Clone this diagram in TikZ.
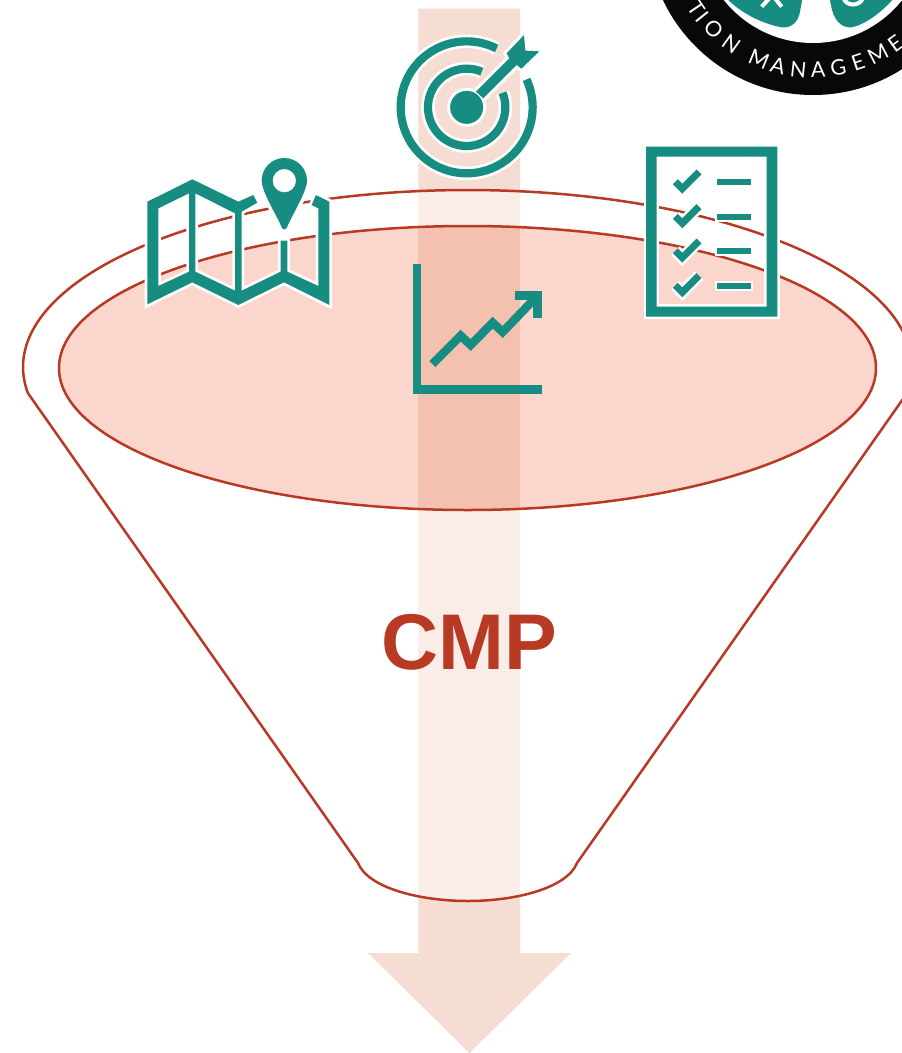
\documentclass[tikz,border=0pt]{standalone}
\usepackage{fontspec}
\newfontfamily\badgefont{Lato}
\newfontfamily\cmpfont{Liberation Sans}
\definecolor{teal1}{HTML}{178C80}
\definecolor{red1}{HTML}{B83A24}
\definecolor{salmon}{HTML}{FAD6CC}
\definecolor{barcol}{HTML}{F6DDD3}
\definecolor{overlap}{HTML}{F4C1B0}
\definecolor{ink}{HTML}{070809}
\tikzset{
  halo/.style={draw=white,line width=#1,line join=miter,line cap=butt},
  tealline/.style={draw=teal1,line width=#1,line join=miter,line cap=butt},
  redline/.style={draw=red1,line width=2.5pt},
  badgeletter/.style={text=white,inner sep=0pt,font=\badgefont\fontsize{21.5}{22}\selectfont}
}
\begin{document}
\begin{tikzpicture}[x=1pt,y=-1pt]
\clip (0,0) rectangle (902,1053);
\fill[white] (0,0) rectangle (902,1053);
% arrow
\fill[barcol] (418.3,8.5) -- (520,8.5) -- (520,953) -- (571,953) -- (469.5,1053) -- (368,953) -- (418.3,953) -- cycle;
% funnel
\path[fill=white,fill opacity=.45,redline]
  plot[domain=-8.45:188.45,samples=140,variable=\t] ({467.5+444.5*cos(\t)},{367-177*sin(\t)})
  -- (358,863) .. controls (368,888) and (420,901) .. (468,901) .. controls (516,901) and (567,888) .. (577,863) -- cycle;
% rim
\fill[salmon] (467.5,368) ellipse [x radius=408.5pt,y radius=142pt];
\begin{scope}
  \clip (467.5,368) ellipse [x radius=408.5pt,y radius=142pt];
  \fill[overlap] (418.3,200) rectangle (520,520);
\end{scope}
\draw[redline] (467.5,368) ellipse [x radius=408.5pt,y radius=142pt];
% label
\node[text=red1,inner sep=0pt,anchor=base,font=\cmpfont\bfseries\fontsize{79}{79}\selectfont] (cmp) at (469.7,669) {CMP};
% target icon
\begin{scope}[shift={(380,20)},x=.33333pt,y=-.33333pt]
  \def\ringA{plot[domain=63:385,samples=120,variable=\t] ({260+198*cos(\t)},{262-198*sin(\t)})}
  \def\ringB{plot[domain=67:382,samples=120,variable=\t] ({260+116*cos(\t)},{262-116*sin(\t)})}
  \path[halo=13.5pt] \ringA;
  \path[halo=13.5pt] \ringB;
  \fill[white] (260,262) circle [radius=19.5pt];
  \path[draw=white,fill=white,line width=6pt] (288,215) -- (388,115) -- (380,100) -- (432,45) -- (436,92) -- (478,94) -- (424,146) -- (410,135) -- (310,235) -- cycle;
  \path[tealline=8.2pt] \ringA;
  \path[tealline=8.2pt] \ringB;
  \fill[teal1] (260,262) circle [radius=16.5pt];
  \fill[teal1] (288,215) -- (388,115) -- (380,100) -- (432,45) -- (436,92) -- (478,94) -- (424,146) -- (410,135) -- (310,235) -- cycle;
\end{scope}
% map icon
\begin{scope}[shift={(130,150)},x=.33333pt,y=-.33333pt]
  \def\mapbody{(52,155) -- (187,88) -- (325,155) -- (370,135) -- (382,158) -- (335,185) -- (335,422) -- (452,365) -- (452,272) -- (472,272) -- (472,365) -- (565,408) -- (565,175) -- (545,165) -- (558,135) -- (598,155) -- (598,465) -- (462,397) -- (325,465) -- (187,397) -- (52,463) -- cycle
    (85,175) -- (177,130) -- (177,365) -- (85,408) -- cycle
    (196,130) -- (315,190) -- (315,422) -- (196,365) -- cycle}
  \def\pin{(463,24) .. controls (425,24) and (395,55) .. (395,92) .. controls (395,125) and (440,195) .. (455,232) .. controls (458,240) and (468,240) .. (471,232) .. controls (486,195) and (531,125) .. (531,92) .. controls (531,55) and (501,24) .. (463,24) -- cycle}
  \path[halo=5.5pt] \mapbody;
  \path[halo=7pt] \pin;
  \fill[teal1,even odd rule] \mapbody;
  \fill[teal1,even odd rule] \pin (463,92) circle [radius=11.7pt];
\end{scope}
% checklist icon
\begin{scope}[shift={(630,140)},x=.33333pt,y=-.33333pt]
  \path[halo=5pt,even odd rule] (48,20) rectangle (442,530) (80,50) rectangle (410,500);
  \fill[teal1,even odd rule] (48,20) rectangle (442,530) (80,50) rectangle (410,500);
  \foreach \d in {0,104,207,311}{
    \path[halo=12pt] (136,125+\d) -- (157,146+\d) -- (207,96+\d);
    \path[halo=4pt,fill=white] (262,117+\d) rectangle (364,136+\d);
  }
  \foreach \d in {0,104,207,311}{
    \path[tealline=7pt] (136,125+\d) -- (157,146+\d) -- (207,96+\d);
    \fill[teal1] (262,117+\d) rectangle (364,136+\d);
  }
\end{scope}
% chart icon
\begin{scope}[shift={(400,250)},x=.33333pt,y=-.33333pt]
  \path[tealline=8.5pt] (51,43) -- (51,419) -- (427,419);
  \path[tealline=8.5pt] (97,342) -- (182,257) -- (212,285) -- (278,218) -- (308,246) -- (405,145);
  \path[tealline=8.5pt] (345,137) -- (413,137) -- (413,205);
\end{scope}
% badge
\fill[ink] (813,-71) circle [radius=166pt];
\fill[white] (813,-71) circle [radius=114pt];
\begin{scope}[shift={(640,0)},x=.33333pt,y=-.33333pt]
  \fill[teal1] (255,-20) -- (265,0) .. controls (300,35) and (360,70) .. (425,82) .. controls (455,85) and (475,65) .. (480,35) -- (490,-20) -- cycle;
  \fill[teal1] (565,-20) -- (572,10) .. controls (578,55) and (600,85) .. (635,82) .. controls (680,72) and (725,35) .. (757,0) -- (770,-20) -- cycle;
  \draw[white,line width=4pt] (365,20) -- (388,-5) (425,20) -- (405,-5);
  \draw[white,line width=4pt] (612,-3) .. controls (620,18) and (655,20) .. (668,-3);
\end{scope}
\foreach \ch/\ang/\i in {T/145.6/1,I/141.5/2,O/134.6/3,N/125.4/4,M/112.5/5,A/104.3/6,N/96/7,A/87.9/8,G/79.7/9,E/71.4/10,M/62.6/11,E/54.2/12}{
  \node[badgeletter,rotate=90-\ang] (letter\i) at ({813+141*cos(\ang)},{-71+141*sin(\ang)}) {\ch};
}
\end{tikzpicture}
\end{document}
